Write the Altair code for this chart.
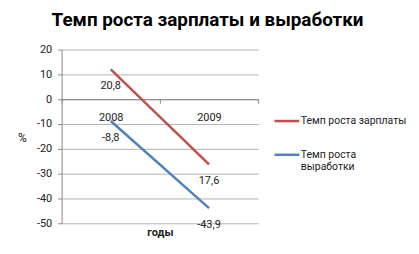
import altair as alt
import pandas as pd

# ---- data ----
years = ["2008", "2009"]
series_names = ["Темп роста зарплаты", "Темп роста выработки"]
wage_growth = [20.8, 17.6]
productivity_growth = [-8.8, -43.9]
stack_order = [1, 0]  # Excel stacked line: productivity at the bottom
y_ticks = [-50, -40, -30, -20, -10, 0, 10, 20]
colors = ["#C0504D", "#4F81BD"]

rows = []
for name, vals, order in zip(series_names, [wage_growth, productivity_growth], stack_order):
    for yr, v in zip(years, vals):
        rows.append({"year": yr, "series": name, "value": v, "order": order})
df = pd.DataFrame(rows)

FONT = "Roboto"
W, H = 198, 175
ymin, ymax = min(y_ticks), max(y_ticks)
zero_offset = -H * (0 - ymin) / (ymax - ymin)

base = alt.Chart(df).transform_window(
    cum="sum(value)",
    groupby=["year"],
    sort=[alt.SortField("order", order="ascending")],
    frame=[None, 0],
).transform_calculate(
    label="replace(toString(datum.value), '.', ',')"
)

x_enc = alt.X(
    "year:N",
    sort=years,
    scale=alt.Scale(type="band", paddingInner=0, paddingOuter=0),
    axis=alt.Axis(
        title="годы",
        offset=zero_offset,
        tickBand="extent",
        labelAngle=0,
        tickSize=4,
        labelPadding=8,
        labelFontSize=11,
        labelColor="#222222",
        domainColor="#868686",
        tickColor="#868686",
        grid=False,
        titleY=134,
        titleBaseline="middle",
        titleFontWeight="bold",
        titleFontSize=11,
        titleColor="#222222",
    ),
)

y_enc = alt.Y(
    "cum:Q",
    scale=alt.Scale(domain=[ymin, ymax], nice=False, zero=False),
    axis=alt.Axis(
        values=y_ticks,
        labelExpr="'' + datum.value",
        labelOverlap=False,
        grid=True,
        gridColor="#B4B4B4",
        gridOpacity=1,
        gridWidth=1,
        title="%",
        titleAngle=0,
        titleX=-40,
        titleY=H / 2 + 1,
        titleAlign="center",
        titleBaseline="middle",
        titleFontWeight="normal",
        titleFontSize=12,
        titleColor="#222222",
        domainColor="#868686",
        tickColor="#868686",
        tickSize=4,
        labelPadding=6,
        labelFontSize=11,
        labelColor="#222222",
    ),
)

lines = base.mark_line(strokeWidth=2.5).encode(
    x=x_enc,
    y=y_enc,
    color=alt.Color(
        "series:N",
        scale=alt.Scale(domain=series_names, range=colors),
        legend=alt.Legend(
            title=None,
            orient="none",
            direction="vertical",
            legendX=213,
            legendY=58,
            symbolType="stroke",
            symbolSize=625,
            symbolStrokeWidth=2.5,
            labelFont=FONT,
            labelFontSize=10.5,
            labelColor="#222222",
            labelOffset=0,
            labelLimit=200,
            rowPadding=14,
            labelExpr="datum.label == 'Темп роста выработки' ? ['Темп роста', 'выработки'] : datum.label",
        ),
    ),
)

labels = base.mark_text(dy=17, fontSize=11, font=FONT, color="#222222").encode(
    x=x_enc,
    y=y_enc,
    text="label:N",
)

chart = (
    alt.layer(lines, labels)
    .properties(
        width=W,
        height=H,
        padding={"left": 54, "top": 41, "right": 154, "bottom": 22},
        autosize=alt.AutoSizeParams(type="none"),
        title=alt.TitleParams(
            "Темп роста зарплаты и выработки",
            anchor="middle",
            dx=48,
            offset=14,
            fontSize=19,
            fontWeight="bold",
            font=FONT,
            color="#000000",
        ),
    )
    .configure(font=FONT)
    .configure_view(stroke=None)
)

chart.save("out.html", embed_options={"renderer": "svg", "actions": False})
